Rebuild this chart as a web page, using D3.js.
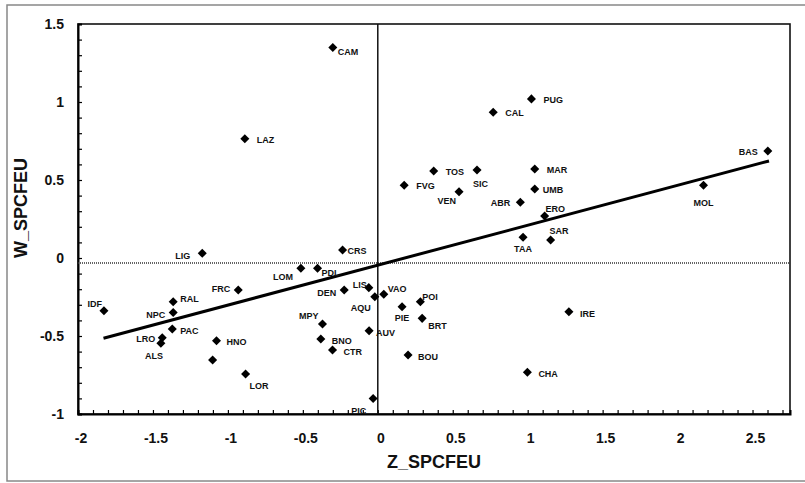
<!DOCTYPE html>
<html>
<head>
<meta charset="utf-8">
<script src="https://cdn.jsdelivr.net/npm/d3@7"></script>
<style>
	body{margin:0;background:#fff;}
	svg text{font-family:"Liberation Sans", Arial, sans-serif;font-weight:bold;fill:#111;}
</style>
</head>
<body>
<svg id="chart" width="805" height="483"></svg>
<script>
// regions (labels), Z_SPCFEU (x) and W_SPCFEU (y)
var regions = ["CAM","PUG","CAL","LAZ","TOS","SIC","FVG","VEN","ABR","MAR","UMB","ERO","SAR","TAA","BAS","MOL",
	"LIG","CRS","LOM","PDL","DEN","LIS","VAO","AQU","PIE","POI","BRT","MPY","AUV","BNO","CTR","BOU","PIC","CHA","IRE",
	"IDF","RAL","NPC","PAC","LRO","ALS","HNO","","LOR","FRC"];
var zVals = [-0.30,1.025,0.77,-0.887,0.373,0.662,0.176,0.542,0.951,1.047,1.047,1.113,1.153,0.969,2.602,2.173,
	-1.171,-0.235,-0.513,-0.402,-0.224,-0.06,0.04,-0.02,0.162,0.284,0.296,-0.369,-0.058,-0.38,-0.302,0.202,-0.031,0.998,1.275,
	-1.827,-1.365,-1.365,-1.371,-1.438,-1.447,-1.076,-1.102,-0.882,-0.931];
var wVals = [1.35,1.02,0.934,0.765,0.558,0.564,0.466,0.425,0.357,0.571,0.442,0.269,0.115,0.133,0.686,0.466,
	0.030,0.051,-0.066,-0.066,-0.205,-0.19,-0.233,-0.248,-0.312,-0.280,-0.387,-0.423,-0.466,-0.519,-0.590,-0.622,-0.90,-0.733,-0.344,
	-0.338,-0.280,-0.350,-0.455,-0.511,-0.547,-0.530,-0.654,-0.744,-0.205];

var xTicks = [-2,-1.5,-1,-0.5,0,0.5,1,1.5,2,2.5];
var yTicks = [-1,-0.5,0,0.5,1,1.5];
var xDomain = [-2, 2.75];
var yDomain = [-1, 1.5];

// reference lines and fitted line
var wMean = -0.032;
var fitSlope = 0.256;
var fitIntercept = -0.046;
var fitRange = [-1.83, 2.61];

// label placement: [dx, dy, anchor]
var labelPos = {
	CAM:[5,8,"start"], PUG:[12,4,"start"], CAL:[12,4,"start"], LAZ:[12,4,"start"], TOS:[12,4,"start"],
	SIC:[-4,17,"start"], FVG:[12,4,"start"], VEN:[-3,12,"end"], ABR:[-10,4,"end"], MAR:[12,4,"start"],
	UMB:[8,4,"start"], ERO:[1,-4,"start"], SAR:[-1,-6,"start"], TAA:[0,15,"middle"], BAS:[-10,4,"end"],
	MOL:[0,21,"middle"], LIG:[-12,6,"end"], CRS:[5,4,"start"], LOM:[-8,12,"end"], PDL:[4,8,"start"],
	DEN:[-8,6,"end"], LIS:[-2,0,"end"], VAO:[4,-2,"start"], AQU:[-4,14,"end"], PIE:[0,14,"middle"],
	POI:[2,-2,"start"], BRT:[6,11,"start"], MPY:[-4,-5,"end"], AUV:[7,5,"start"], BNO:[11,5,"start"],
	CTR:[11,5,"start"], BOU:[10,5,"start"], PIC:[-7,16,"end"], CHA:[11,5,"start"], IRE:[11,5,"start"],
	IDF:[-2,-4,"end"], RAL:[7,0,"start"], NPC:[-8,5,"end"], PAC:[8,5,"start"], LRO:[-7,4,"end"],
	ALS:[2,16,"end"], HNO:[10,4,"start"], LOR:[4,15,"start"], FRC:[-8,2,"end"]
};

var svg = d3.select('#chart');
var x = d3.scaleLinear().domain(xDomain).range([78, 790]);
var y = d3.scaleLinear().domain(yDomain).range([414, 24]);

// outer frame
svg.append('rect')
	.attr('x', 7).attr('y', 5).attr('width', 820).attr('height', 476)
	.attr('fill', 'none').attr('stroke', '#888').attr('stroke-width', 1.5);

// plot frame
svg.append('rect')
	.attr('x', x(xDomain[0])).attr('y', y(yDomain[1]))
	.attr('width', x(xDomain[1]) - x(xDomain[0])).attr('height', y(yDomain[0]) - y(yDomain[1]))
	.attr('fill', 'none').attr('stroke', '#111').attr('stroke-width', 1.6);

// minor ticks every 0.1
var xMinor = d3.range(-20, 28).map(function(d){ return d/10; });
var yMinor = d3.range(-10, 16).map(function(d){ return d/10; });
svg.append('g').attr('transform', 'translate(0,' + y(yDomain[0]) + ')')
	.call(d3.axisBottom(x).tickValues(xMinor).tickSize(-4).tickFormat(''))
	.call(function(g){ g.select('.domain').attr('stroke-width', 2); g.selectAll('line').attr('stroke-width', 1.2); });
svg.append('g').attr('transform', 'translate(' + x(xDomain[0]) + ',0)')
	.call(d3.axisLeft(y).tickValues(yMinor).tickSize(-4).tickFormat(''))
	.call(function(g){ g.select('.domain').attr('stroke-width', 2); g.selectAll('line').attr('stroke-width', 1.2); });

// tick labels
svg.append('g').selectAll('text').data(xTicks).join('text')
	.attr('x', function(d){ return x(d) + 3; })
	.attr('y', 443)
	.attr('text-anchor', 'middle')
	.style('font-size', '14px')
	.text(function(d){ return d; });
svg.append('g').selectAll('text').data(yTicks).join('text')
	.attr('x', 64)
	.attr('y', function(d){ return y(d) + 5; })
	.attr('text-anchor', 'end')
	.style('font-size', '14px')
	.text(function(d){ return d; });

// axis titles
svg.append('text')
	.attr('x', 434).attr('y', 468)
	.attr('text-anchor', 'middle')
	.style('font-size', '18px')
	.text('Z_SPCFEU');
svg.append('text')
	.attr('transform', 'translate(27,208) rotate(-90)')
	.attr('text-anchor', 'middle')
	.style('font-size', '18px')
	.text('W_SPCFEU');

// reference lines
svg.append('line')
	.attr('x1', x(xDomain[0])).attr('x2', x(xDomain[1]))
	.attr('y1', y(wMean)).attr('y2', y(wMean))
	.attr('stroke', '#333').attr('stroke-width', 1.4).attr('stroke-dasharray', '1,1');
svg.append('line')
	.attr('x1', x(0)).attr('x2', x(0))
	.attr('y1', y(yDomain[0])).attr('y2', y(yDomain[1]))
	.attr('stroke', '#111').attr('stroke-width', 1.5);

// fitted line
svg.append('line')
	.attr('x1', x(fitRange[0])).attr('y1', y(fitSlope*fitRange[0] + fitIntercept))
	.attr('x2', x(fitRange[1])).attr('y2', y(fitSlope*fitRange[1] + fitIntercept))
	.attr('stroke', '#000').attr('stroke-width', 3);

// points
var pts = regions.map(function(r, i){ return {name: r, z: zVals[i], w: wVals[i]}; });
svg.append('g').selectAll('path').data(pts).join('path')
	.attr('d', d3.symbol().type(d3.symbolDiamond2).size(52))
	.attr('transform', function(d){ return 'translate(' + x(d.z) + ',' + y(d.w) + ')'; })
	.attr('fill', '#000');

// labels
svg.append('g').selectAll('text').data(pts.filter(function(d){ return d.name != ''; })).join('text')
	.attr('x', function(d){ return x(d.z) + labelPos[d.name][0]; })
	.attr('y', function(d){ return y(d.w) + labelPos[d.name][1]; })
	.attr('text-anchor', function(d){ return labelPos[d.name][2]; })
	.style('font-size', '9px')
	.text(function(d){ return d.name; });
</script>
</body>
</html>
